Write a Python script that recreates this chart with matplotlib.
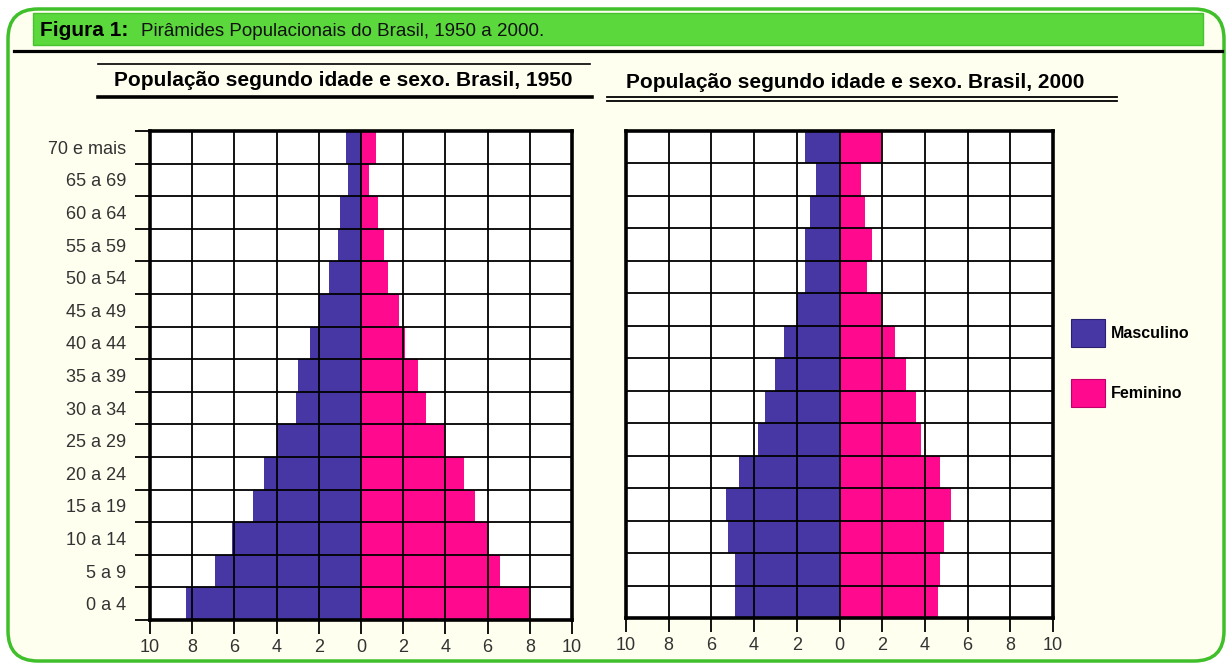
import numpy as np
import matplotlib.pyplot as plt
from matplotlib.patches import FancyBboxPatch, Rectangle

# dados (% da população)
idades = ['0 a 4', '5 a 9', '10 a 14', '15 a 19', '20 a 24', '25 a 29', '30 a 34',
          '35 a 39', '40 a 44', '45 a 49', '50 a 54', '55 a 59', '60 a 64',
          '65 a 69', '70 e mais']
homens_1950 = [8.3, 6.9, 6.1, 5.1, 4.6, 4.0, 3.1, 3.0, 2.4, 2.0, 1.5, 1.1, 1.0, 0.6, 0.7]
mulheres_1950 = [8.0, 6.6, 6.0, 5.4, 4.9, 4.0, 3.1, 2.7, 2.1, 1.8, 1.3, 1.1, 0.8, 0.4, 0.7]
homens_2000 = [4.9, 4.9, 5.2, 5.3, 4.7, 3.8, 3.5, 3.0, 2.6, 2.0, 1.6, 1.6, 1.4, 1.1, 1.6]
mulheres_2000 = [4.6, 4.7, 4.9, 5.2, 4.7, 3.8, 3.6, 3.1, 2.6, 2.0, 1.3, 1.5, 1.2, 1.0, 2.0]
x_ticks = [-10, -8, -6, -4, -2, 0, 2, 4, 6, 8, 10]

cor_masc = '#4637a5'
cor_fem = '#ff0a8e'

plt.rcParams['font.family'] = ['Liberation Sans', 'DejaVu Sans']

fig = plt.figure(figsize=(12.28, 6.64), dpi=100, facecolor='white')

# fundo em coordenadas de pixel
bg = fig.add_axes([0, 0, 1, 1], zorder=-1)
bg.set_xlim(0, 1228)
bg.set_ylim(664, 0)
bg.axis('off')
bg.add_patch(FancyBboxPatch((8, 9), 1216, 652, boxstyle='round,pad=0,rounding_size=30',
                            facecolor='#fffff0', edgecolor='#3fbf2a', lw=2.5))
bg.add_patch(Rectangle((33, 13), 1170, 32, facecolor='#5ad83c', edgecolor='#49c22f', lw=1))
bg.plot([14, 1222], [51, 51], color='black', lw=2.3)
bg.plot([98, 590], [64, 64], color='black', lw=1.2)
bg.plot([98, 592], [97, 97], color='black', lw=2.6)
bg.plot([607, 1117], [97, 97], color='black', lw=1.3)
bg.plot([607, 1117], [100.5, 100.5], color='black', lw=1.3)

bg.text(40, 31, 'Figura 1:', fontsize=15, fontweight='black', va='center')
bg.text(141, 32, 'Pirâmides Populacionais do Brasil, 1950 a 2000.', fontsize=13.5,
        va='center', color='#111111')
bg.text(343, 81, 'População segundo idade e sexo. Brasil, 1950', fontsize=15,
        fontweight='bold', ha='center', va='center')
bg.text(855, 83, 'População segundo idade e sexo. Brasil, 2000', fontsize=15,
        fontweight='bold', ha='center', va='center')


def piramide(ax, homens, mulheres, rotulos_y):
    y = np.arange(len(idades))
    ax.set_facecolor('white')
    ax.barh(y, [-h for h in homens], height=1, align='edge', color=cor_masc, zorder=1)
    ax.barh(y, mulheres, height=1, align='edge', color=cor_fem, zorder=1)
    ax.set_xlim(-10, 10)
    ax.set_ylim(0, len(idades))
    ax.set_axisbelow(False)
    ax.set_xticks(x_ticks)
    ax.set_xticklabels([str(abs(v)) for v in x_ticks])
    ax.set_yticks(np.arange(len(idades) + 1))
    ax.set_yticklabels([])
    ax.grid(True, color='black', lw=1.3)
    ax.tick_params(axis='x', direction='out', length=10, width=1.3,
                   labelsize=13, colors='black', labelcolor='#333333', pad=4)
    if rotulos_y:
        ax.set_yticks(y + 0.5, minor=True)
        ax.set_yticklabels(idades, minor=True)
        ax.tick_params(axis='y', which='major', direction='out', length=11, width=1.3)
        ax.tick_params(axis='y', which='minor', length=0, labelsize=13,
                       labelcolor='#333333', pad=17)
    else:
        ax.tick_params(axis='y', which='major', length=0)
    for s in ax.spines.values():
        s.set_linewidth(2.6)


ax1 = fig.add_axes([150 / 1228, 1 - 620 / 664, 422 / 1228, 489 / 664])
piramide(ax1, homens_1950, mulheres_1950, True)

ax2 = fig.add_axes([626 / 1228, 1 - 618 / 664, 427 / 1228, 487 / 664])
piramide(ax2, homens_2000, mulheres_2000, False)

handles = [Rectangle((0, 0), 1, 1, facecolor=cor_masc, edgecolor='#2a2070', lw=0.8),
           Rectangle((0, 0), 1, 1, facecolor=cor_fem, edgecolor='#c0006a', lw=0.8)]
fig.legend(handles, ['Masculino', 'Feminino'], loc='upper left',
           bbox_to_anchor=(1057 / 1228, 1 - 305 / 664), frameon=False,
           prop={'weight': 'bold', 'size': 11.5},
           handlelength=2.1, handleheight=2.3, labelspacing=2.0, handletextpad=0.35)

fig.savefig('out.png', dpi=100, facecolor='white')
